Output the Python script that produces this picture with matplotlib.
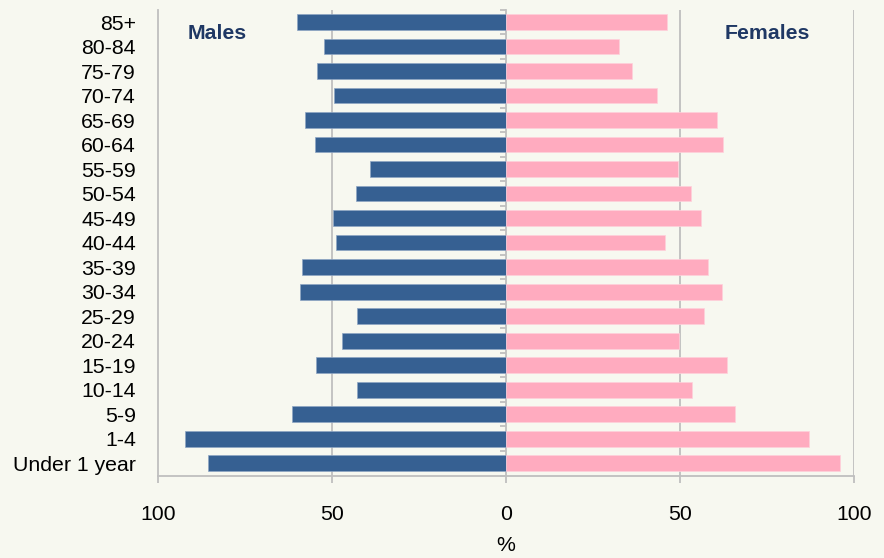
import matplotlib
matplotlib.use("Agg")
import matplotlib.pyplot as plt
import numpy as np

plt.rcParams['font.family'] = ['Liberation Sans', 'DejaVu Sans']

ages = ["Under 1 year", "1-4", "5-9", "10-14", "15-19", "20-24", "25-29", "30-34",
        "35-39", "40-44", "45-49", "50-54", "55-59", "60-64", "65-69", "70-74",
        "75-79", "80-84", "85+"]
males = [85.7, 92.3, 61.6, 42.7, 54.5, 47.0, 42.7, 59.1, 58.5, 48.9, 49.8,
         43.0, 39.0, 55.0, 57.9, 49.5, 54.3, 52.3, 60.1]
females = [95.9, 87.2, 65.8, 53.5, 63.5, 49.8, 56.9, 62.0, 58.0, 45.6, 56.0,
           53.3, 49.4, 62.4, 60.5, 43.5, 36.3, 32.4, 46.2]
xticks = [-100, -50, 0, 50, 100]
xticklabels = ["100", "50", "0", "50", "100"]

bg = '#F7F8F0'
grid = '#BFBFBF'
male_c = '#366092'
female_c = '#FFABBF'
title_c = '#1F3864'

fig = plt.figure(figsize=(8.84, 5.58), dpi=100, facecolor=bg)
ax = fig.add_axes([158/884, 1 - 475.5/558, 696/884, 465.7/558])
ax.set_facecolor(bg)

y = np.arange(len(ages))
ax.barh(y, [-m for m in males], height=0.64, color=male_c, edgecolor='#8EA6C4', linewidth=0.5, zorder=3)
ax.barh(y, females, height=0.64, color=female_c, edgecolor='#FFD0DA', linewidth=0.5, zorder=3)

ax.set_xlim(-100, 100)
ax.set_ylim(-0.5, len(ages) - 0.5)

for gx in [-50, 50, 100]:
    ax.axvline(gx, color=grid, lw=1.3, zorder=1)

ax.set_yticks(y)
ax.set_yticklabels(ages, fontsize=15.3)
ax.tick_params(axis='y', length=0, pad=16)

ax.set_xticks(xticks)
ax.set_xticklabels(xticklabels, fontsize=15.3)
ax.tick_params(axis='x', length=5, width=1.3, color=grid, pad=16, direction='out')
ax.set_xlabel('%', fontsize=15.3, labelpad=9)

for s in ['top', 'right']:
    ax.spines[s].set_visible(False)
for s in ['left', 'bottom']:
    ax.spines[s].set_color(grid)
    ax.spines[s].set_linewidth(1.3)

sec = ax.secondary_yaxis(0.5)
sec.set_alignment('left')
sec.set_yticks(np.arange(len(ages) + 1) - 0.5)
sec.set_yticklabels([])
sec.tick_params(axis='y', length=4, width=1.3, color=grid, direction='out')
for s in sec.spines.values():
    s.set_color(grid)
    s.set_linewidth(1.3)
    s.set_zorder(4)

ax.text(0.085, 0.95, 'Males', transform=ax.transAxes, ha='center', va='center',
        fontsize=15.3, fontweight='bold', color=title_c)
ax.text(0.876, 0.95, 'Females', transform=ax.transAxes, ha='center', va='center',
        fontsize=15.3, fontweight='bold', color=title_c)

fig.savefig('out.png', dpi=100, facecolor=bg)
